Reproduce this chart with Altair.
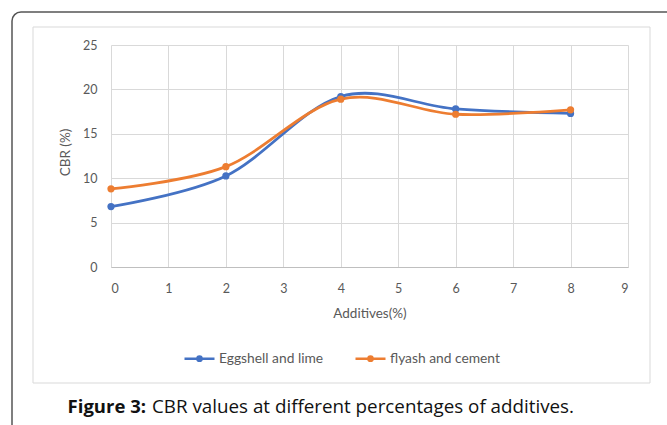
import altair as alt
import pandas as pd

# ---- data ----
additives = [0, 2, 4, 6, 8]
eggshell_lime = [6.8, 10.25, 19.2, 17.8, 17.3]
flyash_cement = [8.8, 11.3, 18.9, 17.2, 17.7]
series_names = ["Eggshell and lime", "flyash and cement"]
series_colors = ["#4472C4", "#ED7D31"]
x_ticks = [0, 1, 2, 3, 4, 5, 6, 7, 8, 9]
y_ticks = [0, 5, 10, 15, 20, 25]
caption_bold = "Figure 3:"
caption_rest = "CBR values at different percentages of additives."

rows = []
for name, vals in zip(series_names, [eggshell_lime, flyash_cement]):
    for a, v in zip(additives, vals):
        rows.append({"Additives": a, "CBR": v, "Series": name})
df = pd.DataFrame(rows)

W, H = 517, 222
PL, PT = 111, 45

color = alt.Color(
    "Series:N",
    scale=alt.Scale(domain=series_names, range=series_colors),
    legend=alt.Legend(
        orient="none", legendX=72, legendY=297, direction="horizontal",
        title=None,
        symbolType="M-1,0L1,0M-0.14,0A0.14,0.14,0,1,0,0.14,0A0.14,0.14,0,1,0,-0.14,0M-0.06,0A0.06,0.06,0,1,0,0.06,0A0.06,0.06,0,1,0,-0.06,0",
        symbolSize=900, symbolStrokeWidth=2.5,
        labelFont="Lato", labelFontSize=13.8, labelColor="#595959",
        labelOffset=3, columnPadding=26,
    ),
)

x_enc = alt.X(
    "Additives:Q",
    scale=alt.Scale(domain=[0, 9], nice=False),
    axis=alt.Axis(
        values=x_ticks, format="d", title="Additives(%)",
        grid=True, gridColor="#d9d9d9", ticks=False, tickSize=0,
        domain=True, domainColor="#bfbfbf",
        labelFont="Lato", labelFontSize=12.5, labelColor="#595959", labelPadding=15,
        titleFont="Lato", titleFontSize=13.5, titleFontWeight="normal", titleColor="#595959",
        titleY=46, titleBaseline="middle",
    ),
)
y_enc = alt.Y(
    "CBR:Q",
    scale=alt.Scale(domain=[0, 25], nice=False),
    axis=alt.Axis(
        values=y_ticks, title="CBR (%)",
        grid=True, gridColor="#d9d9d9", ticks=False, tickSize=0, domain=False,
        labelFont="Lato", labelFontSize=12.5, labelColor="#595959", labelPadding=14,
        titleFont="Lato", titleFontSize=13.5, titleFontWeight="normal", titleColor="#595959",
        titleX=-46, titleY=107, titleAngle=-90, titleBaseline="middle", titleAlign="center",
    ),
)

lines = alt.Chart(df).mark_line(interpolate="cardinal", strokeWidth=2.8).encode(
    x=x_enc, y=y_enc, color=color
)
points = alt.Chart(df).mark_point(filled=True, size=52, opacity=1).encode(
    x="Additives:Q", y="CBR:Q",
    color=alt.Color("Series:N", scale=alt.Scale(domain=series_names, range=series_colors), legend=None),
)

one = pd.DataFrame({"k": [0]})
outer = alt.Chart(one).mark_rect(
    fill="transparent", stroke="#555555", strokeWidth=1.5, cornerRadius=9
).encode(x=alt.value(12 - PL), x2=alt.value(720 - PL), y=alt.value(12 - PT), y2=alt.value(470 - PT))
inner = alt.Chart(one).mark_rect(
    fill="transparent", stroke="#d9d9d9", strokeWidth=1
).encode(x=alt.value(33 - PL), x2=alt.value(650 - PL), y=alt.value(27 - PT), y2=alt.value(383 - PT))

cap1 = alt.Chart(one).mark_text(
    align="right", baseline="middle", font="Open Sans", fontSize=18.5, fontWeight="bold", color="#111111"
).encode(x=alt.value(146 - PL), y=alt.value(407 - PT), text=alt.value(caption_bold))
cap2 = alt.Chart(one).mark_text(
    align="left", baseline="middle", font="Open Sans", fontSize=18.8, color="#111111"
).encode(x=alt.value(152 - PL), y=alt.value(407 - PT), text=alt.value(caption_rest))

chart = alt.layer(outer, inner, lines, points, cap1, cap2).properties(
    width=W, height=H,
    autosize=alt.AutoSizeParams(type="none"),
    padding={"left": PL, "top": PT, "right": 667 - PL - W, "bottom": 425 - PT - H},
    background="white",
).configure_view(stroke=None)

chart.save("out.html", embed_options={"renderer": "svg", "actions": False})
